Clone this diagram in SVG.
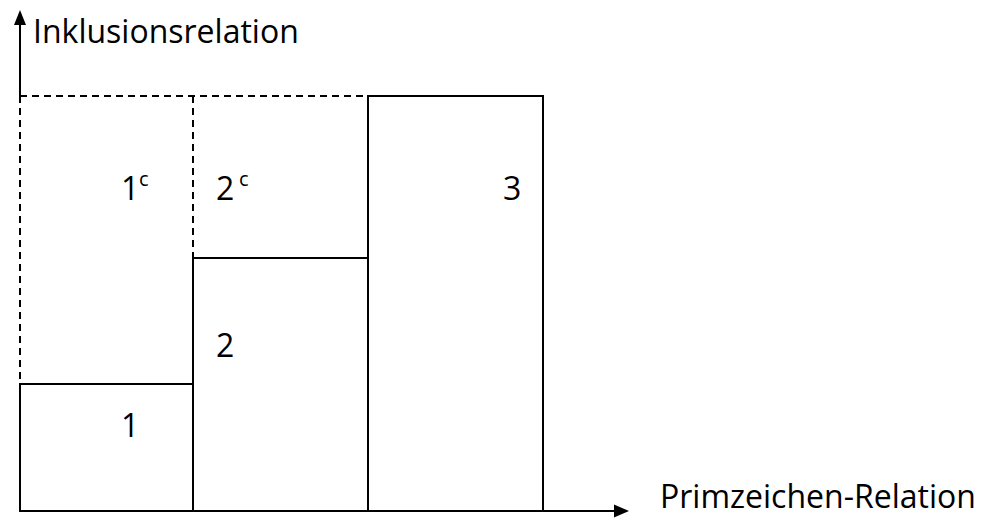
<svg xmlns="http://www.w3.org/2000/svg" width="986" height="518" viewBox="0 0 986 518">
<style>
.s{stroke:#000;stroke-width:2;fill:none}
.d{stroke:#000;stroke-width:2;fill:none;stroke-dasharray:7 5}
.t{font-family:"Open Sans","Liberation Sans",sans-serif;font-size:32px;fill:#000}
.sup{font-family:"Open Sans","Liberation Sans",sans-serif;font-size:20px;fill:#000}
</style>
<rect width="986" height="518" fill="#fff"/>
<g id="connectors">
<line class="s" x1="20" y1="96" x2="20" y2="24"/>
<polygon points="20,10 14,25 26,25" fill="#000"/>
<line class="s" x1="20" y1="511" x2="616" y2="511"/>
<polygon points="629,511 614,504.5 614,517.5" fill="#000"/>
<line class="d" x1="20" y1="96" x2="368" y2="96"/>
<line class="d" x1="20" y1="96" x2="20" y2="384"/>
<line class="d" x1="193" y1="96" x2="193" y2="258"/>
</g>
<g id="axis-y-label"><text class="t" x="33" y="43">Inklusionsrelation</text></g>
<g id="axis-x-label"><text class="t" x="660" y="508">Primzeichen-Relation</text></g>
<g id="block1">
<rect class="s" x="20" y="384" width="173" height="127"/>
<text class="t" x="121" y="437">1</text>
</g>
<g id="block2">
<rect class="s" x="193" y="258" width="175" height="253"/>
<text class="t" x="216" y="357">2</text>
</g>
<g id="block3">
<rect class="s" x="368" y="96" width="175" height="415"/>
<text class="t" x="503" y="200">3</text>
</g>
<g id="block1c">
<text class="t" x="121" y="200">1</text><text class="sup" x="139" y="186">c</text>
</g>
<g id="block2c">
<text class="t" x="216" y="200">2</text><text class="sup" x="239" y="186">c</text>
</g>
</svg>
